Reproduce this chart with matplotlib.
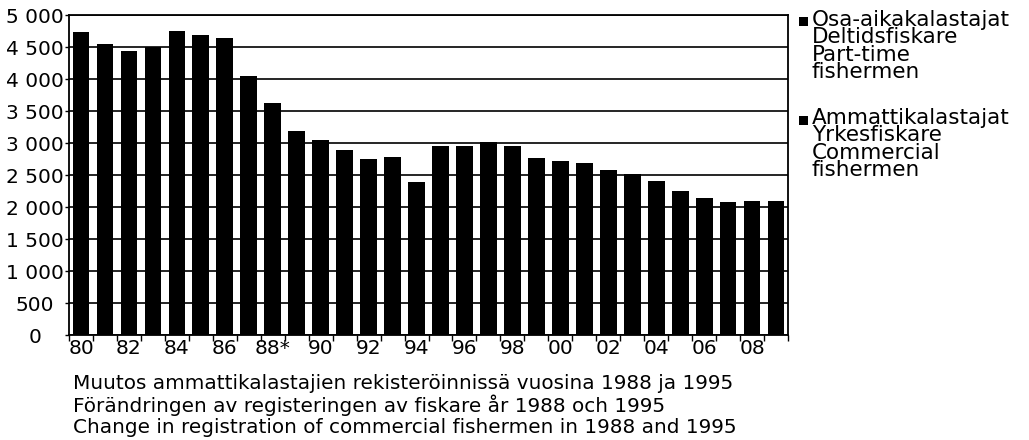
import numpy as np
import matplotlib.pyplot as plt
from matplotlib.patches import Rectangle

# vuodet 1980-2009, ammattikalastajat (luettu kuvasta)
years = list(range(1980, 2010))
commercial = [4730, 4550, 4430, 4505, 4745, 4690, 4645, 4045, 3620, 3190,
              3050, 2890, 2750, 2775, 2395, 2955, 2955, 3015, 2955, 2760,
              2725, 2680, 2575, 2515, 2410, 2245, 2145, 2085, 2095, 2090]
tick_labels = ['80', '82', '84', '86', '88*', '90', '92', '94', '96', '98',
               '00', '02', '04', '06', '08']
legend_labels = ['Osa-aikakalastajat\nDeltidsfiskare\nPart-time\nfishermen',
                 'Ammattikalastajat\nYrkesfiskare\nCommercial\nfishermen']
caption = ['Muutos ammattikalastajien rekisteröinnissä vuosina 1988 ja 1995',
           'Förändringen av registeringen av fiskare år 1988 och 1995',
           'Change in registration of commercial fishermen in 1988 and 1995']

plt.rcParams['font.family'] = ['DejaVu Sans']
FS = 14.5

fig = plt.figure(figsize=(10.29, 4.4), dpi=100)
ax = fig.add_axes([0.0671, 0.2386, 0.6987, 0.7273])

x = np.arange(len(years))
ax.bar(x, commercial, width=0.7, color='black', zorder=3)

ax.set_xlim(-0.5, len(years) - 0.5)
ax.set_ylim(0, 5000)
yt = np.arange(0, 5001, 500)
ax.set_yticks(yt)
ax.set_yticklabels([f'{v:,}'.replace(',', ' ') for v in yt], fontsize=FS,
                   ha='center')
ax.yaxis.grid(True, color='black', linewidth=1.2, zorder=1)

# pääticksit parillisten vuosien keskelle, pienet ticksit rajoille
ax.set_xticks(x[::2])
ax.set_xticklabels(tick_labels, fontsize=FS)
ax.set_xticks(np.arange(-0.5, len(years), 1), minor=True)
ax.tick_params(axis='x', which='major', length=0, pad=3)
ax.tick_params(axis='x', which='minor', length=4, width=1, direction='out')
ax.tick_params(axis='y', length=3, width=1, pad=21.5)

for s in ax.spines.values():
    s.set_linewidth(1.3)
    s.set_color('black')

# selite käsin: neliö ensimmäisen rivin kohdalle
leg_top = [0.978, 0.755]
for top, lab in zip(leg_top, legend_labels):
    fig.text(0.789, top, lab, fontsize=15.5, va='top', ha='left',
             linespacing=0.84)
    fig.patches.append(Rectangle((0.7765, top - 0.038), 0.0088, 0.0205,
                                 transform=fig.transFigure,
                                 facecolor='black', edgecolor='none'))

for i, line in enumerate(caption):
    fig.text(0.071, 0.1295 - i * 0.05, line, fontsize=14.4, va='center')

fig.savefig('out.png', dpi=100)
